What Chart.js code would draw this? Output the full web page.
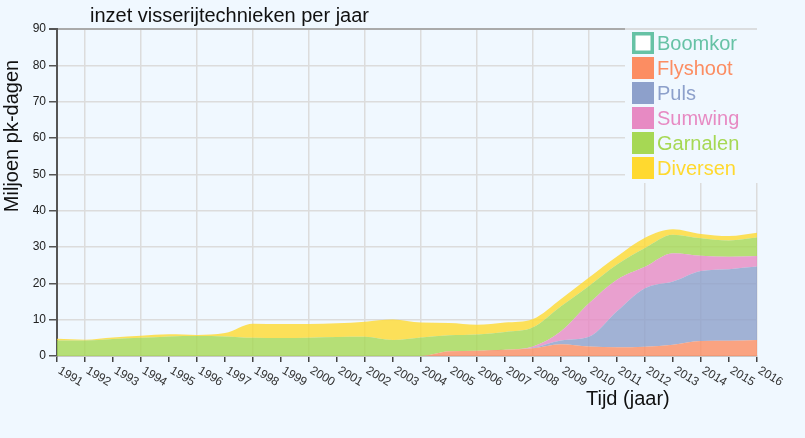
<!DOCTYPE html>
<html>
<head>
<meta charset="utf-8">
<script src="https://cdn.jsdelivr.net/npm/chart.js@4.4.0/dist/chart.umd.min.js"></script>
<style>
  html, body { margin: 0; padding: 0; background: #f0f8ff; }
  #wrap { width: 805px; height: 438px; position: relative; }
</style>
</head>
<body>
<div id="wrap"><canvas id="c"></canvas></div>
<script>
const years = ['1991','1992','1993','1994','1995','1996','1997','1998','1999','2000','2001','2002','2003',
               '2004','2005','2006','2007','2008','2009','2010','2011','2012','2013','2014','2015','2016'];
const yTicks = [0, 10, 20, 30, 40, 50, 60, 70, 80, 90];

const boomkor  = []; // hidden in the reference; values not visible
const flyshoot = [0,0,0,0,0,0,0,0,0,0,0,0,0,0,1.3,1.45,1.7,2.1,3.2,2.6,2.4,2.55,3.1,4.1,4.2,4.4];
const puls     = [0,0,0,0,0,0,0,0,0,0,0,0,0,0,0,0,0,0.2,1.1,2.7,9.9,16.1,17.4,19.3,19.7,20.2];
const sumwing  = [0,0,0,0,0,0,0,0,0,0,0,0,0,0,0,0,0,0.3,2.5,9.2,8.7,5.9,7.8,4.2,3.4,2.9];
const garnalen = [4.3,4.3,4.7,5.0,5.4,5.5,5.4,5.0,4.95,5.0,5.2,5.3,4.4,5.1,4.4,4.45,4.9,5.3,6.9,4.8,4.2,5.2,5.1,4.8,4.5,5.1];
const diversen = [0.45,0.2,0.4,0.6,0.6,0.3,0.9,3.9,3.85,3.8,3.8,4.15,5.65,4.1,3.4,2.7,2.6,2.3,2.0,2.3,2.2,2.8,1.5,1.2,1.2,1.3];

const seriesNames  = ['Boomkor','Flyshoot','Puls','Sumwing','Garnalen','Diversen'];
const seriesColors = ['#66c2a5','#fc8d62','#8da0cb','#e78ac3','#a6d854','#ffd92f'];
const seriesData   = [boomkor, flyshoot, puls, sumwing, garnalen, diversen];

const FONT = '"Liberation Sans", Arial, sans-serif';

function hexA(hex, a) {
  const n = parseInt(hex.slice(1), 16);
  return `rgba(${(n>>16)&255},${(n>>8)&255},${n&255},${a})`;
}

const datasets = seriesNames.map((name, i) => ({
  label: name,
  data: seriesData[i],
  hidden: i === 0,
  fill: i <= 1 ? 'origin' : '-1',
  backgroundColor: hexA(seriesColors[i], 0.8),
  borderColor: seriesColors[i],
  borderWidth: 0,
  pointRadius: 0,
  pointHoverRadius: 0,
  cubicInterpolationMode: 'monotone'
}));

const textPlugin = {
  id: 'texts',
  beforeDraw(chart) {
    const ctx = chart.ctx;
    ctx.save();
    ctx.fillStyle = '#f0f8ff';
    ctx.fillRect(0, 0, chart.width, chart.height);
    ctx.restore();
  },
  afterDraw(chart) {
    const ctx = chart.ctx;
    const xs = chart.scales.x;
    const area = chart.chartArea;
    ctx.save();
    // title
    ctx.fillStyle = '#111';
    ctx.font = '20px ' + FONT;
    ctx.textAlign = 'left';
    ctx.textBaseline = 'alphabetic';
    ctx.fillText('inzet visserijtechnieken per jaar', 90, 22);
    // x title
    ctx.fillText('Tijd (jaar)', 586, 405);
    // y title
    ctx.save();
    ctx.translate(18, 136);
    ctx.rotate(-Math.PI / 2);
    ctx.textAlign = 'center';
    ctx.fillText('Miljoen pk-dagen', 0, 0);
    ctx.restore();
    // x tick labels, rotated clockwise
    ctx.font = '12px ' + FONT;
    ctx.fillStyle = '#333';
    ctx.textBaseline = 'top';
    ctx.textAlign = 'left';
    years.forEach((y, i) => {
      const px = xs.getPixelForValue(i);
      ctx.save();
      ctx.translate(px + 5, area.bottom + 8.5);
      ctx.rotate(31 * Math.PI / 180);
      ctx.fillText(y, 0, 0);
      ctx.restore();
    });
    // legend
    const lx = 625, ly = 28;
    ctx.fillStyle = '#f0f8ff';
    ctx.fillRect(lx, ly, area.right - lx + 1.5, 155);
    ctx.strokeStyle = '#d4d4d4';
    ctx.lineWidth = 1.5;
    ctx.beginPath();
    ctx.moveTo(lx, area.top);
    ctx.lineTo(area.right, area.top);
    ctx.stroke();
    ctx.font = '20px ' + FONT;
    ctx.textBaseline = 'alphabetic';
    chart.data.datasets.forEach((ds, i) => {
      const y0 = 32 + 25 * i;
      const col = seriesColors[i];
      if (chart.isDatasetVisible(i)) {
        ctx.fillStyle = col;
        ctx.fillRect(632, y0, 22, 22);
      } else {
        ctx.fillStyle = '#ffffff';
        ctx.fillRect(632, y0, 22, 22);
        ctx.strokeStyle = col;
        ctx.lineWidth = 3.5;
        ctx.strokeRect(633.75, y0 + 1.75, 18.5, 18.5);
      }
      ctx.fillStyle = col;
      ctx.fillText(ds.label, 657, y0 + 18);
    });
    ctx.restore();
  }
};

new Chart(document.getElementById('c'), {
  type: 'line',
  data: { labels: years, datasets },
  options: {
    responsive: true,
    maintainAspectRatio: false,
    animation: false,
    events: [],
    layout: { padding: { left: 0, right: 48, top: 29, bottom: 0 } },
    plugins: {
      legend: { display: false },
      title: { display: false },
      tooltip: { enabled: false }
    },
    scales: {
      x: {
        type: 'category',
        offset: false,
        ticks: { display: false },
        grid: {
          offset: false,
          color: (c) => (c.index % 2 === 1 ? '#dcdcdc' : 'rgba(0,0,0,0)'),
          lineWidth: 1.5,
          tickColor: '#444',
          tickLength: 6,
          drawTicks: true
        },
        border: { display: true, color: '#c8c8c8', width: 2 },
        afterFit(s) { s.height = 82; }
      },
      y: {
        stacked: true,
        min: 0,
        max: 90,
        afterBuildTicks(s) { s.ticks = yTicks.map(v => ({ value: v })); },
        ticks: {
          color: '#222',
          font: { size: 12, family: FONT },
          padding: 3
        },
        grid: {
          color: (c) => (c.tick && c.tick.value === 90 ? '#aaaaaa' : '#dcdcdc'),
          lineWidth: (c) => (c.tick && c.tick.value === 90 ? 2 : 1.5),
          tickColor: '#555',
          tickLength: 8
        },
        border: { display: true, color: '#555', width: 2 },
        afterFit(s) { s.width = 57; }
      }
    }
  },
  plugins: [textPlugin]
});
</script>
</body>
</html>
